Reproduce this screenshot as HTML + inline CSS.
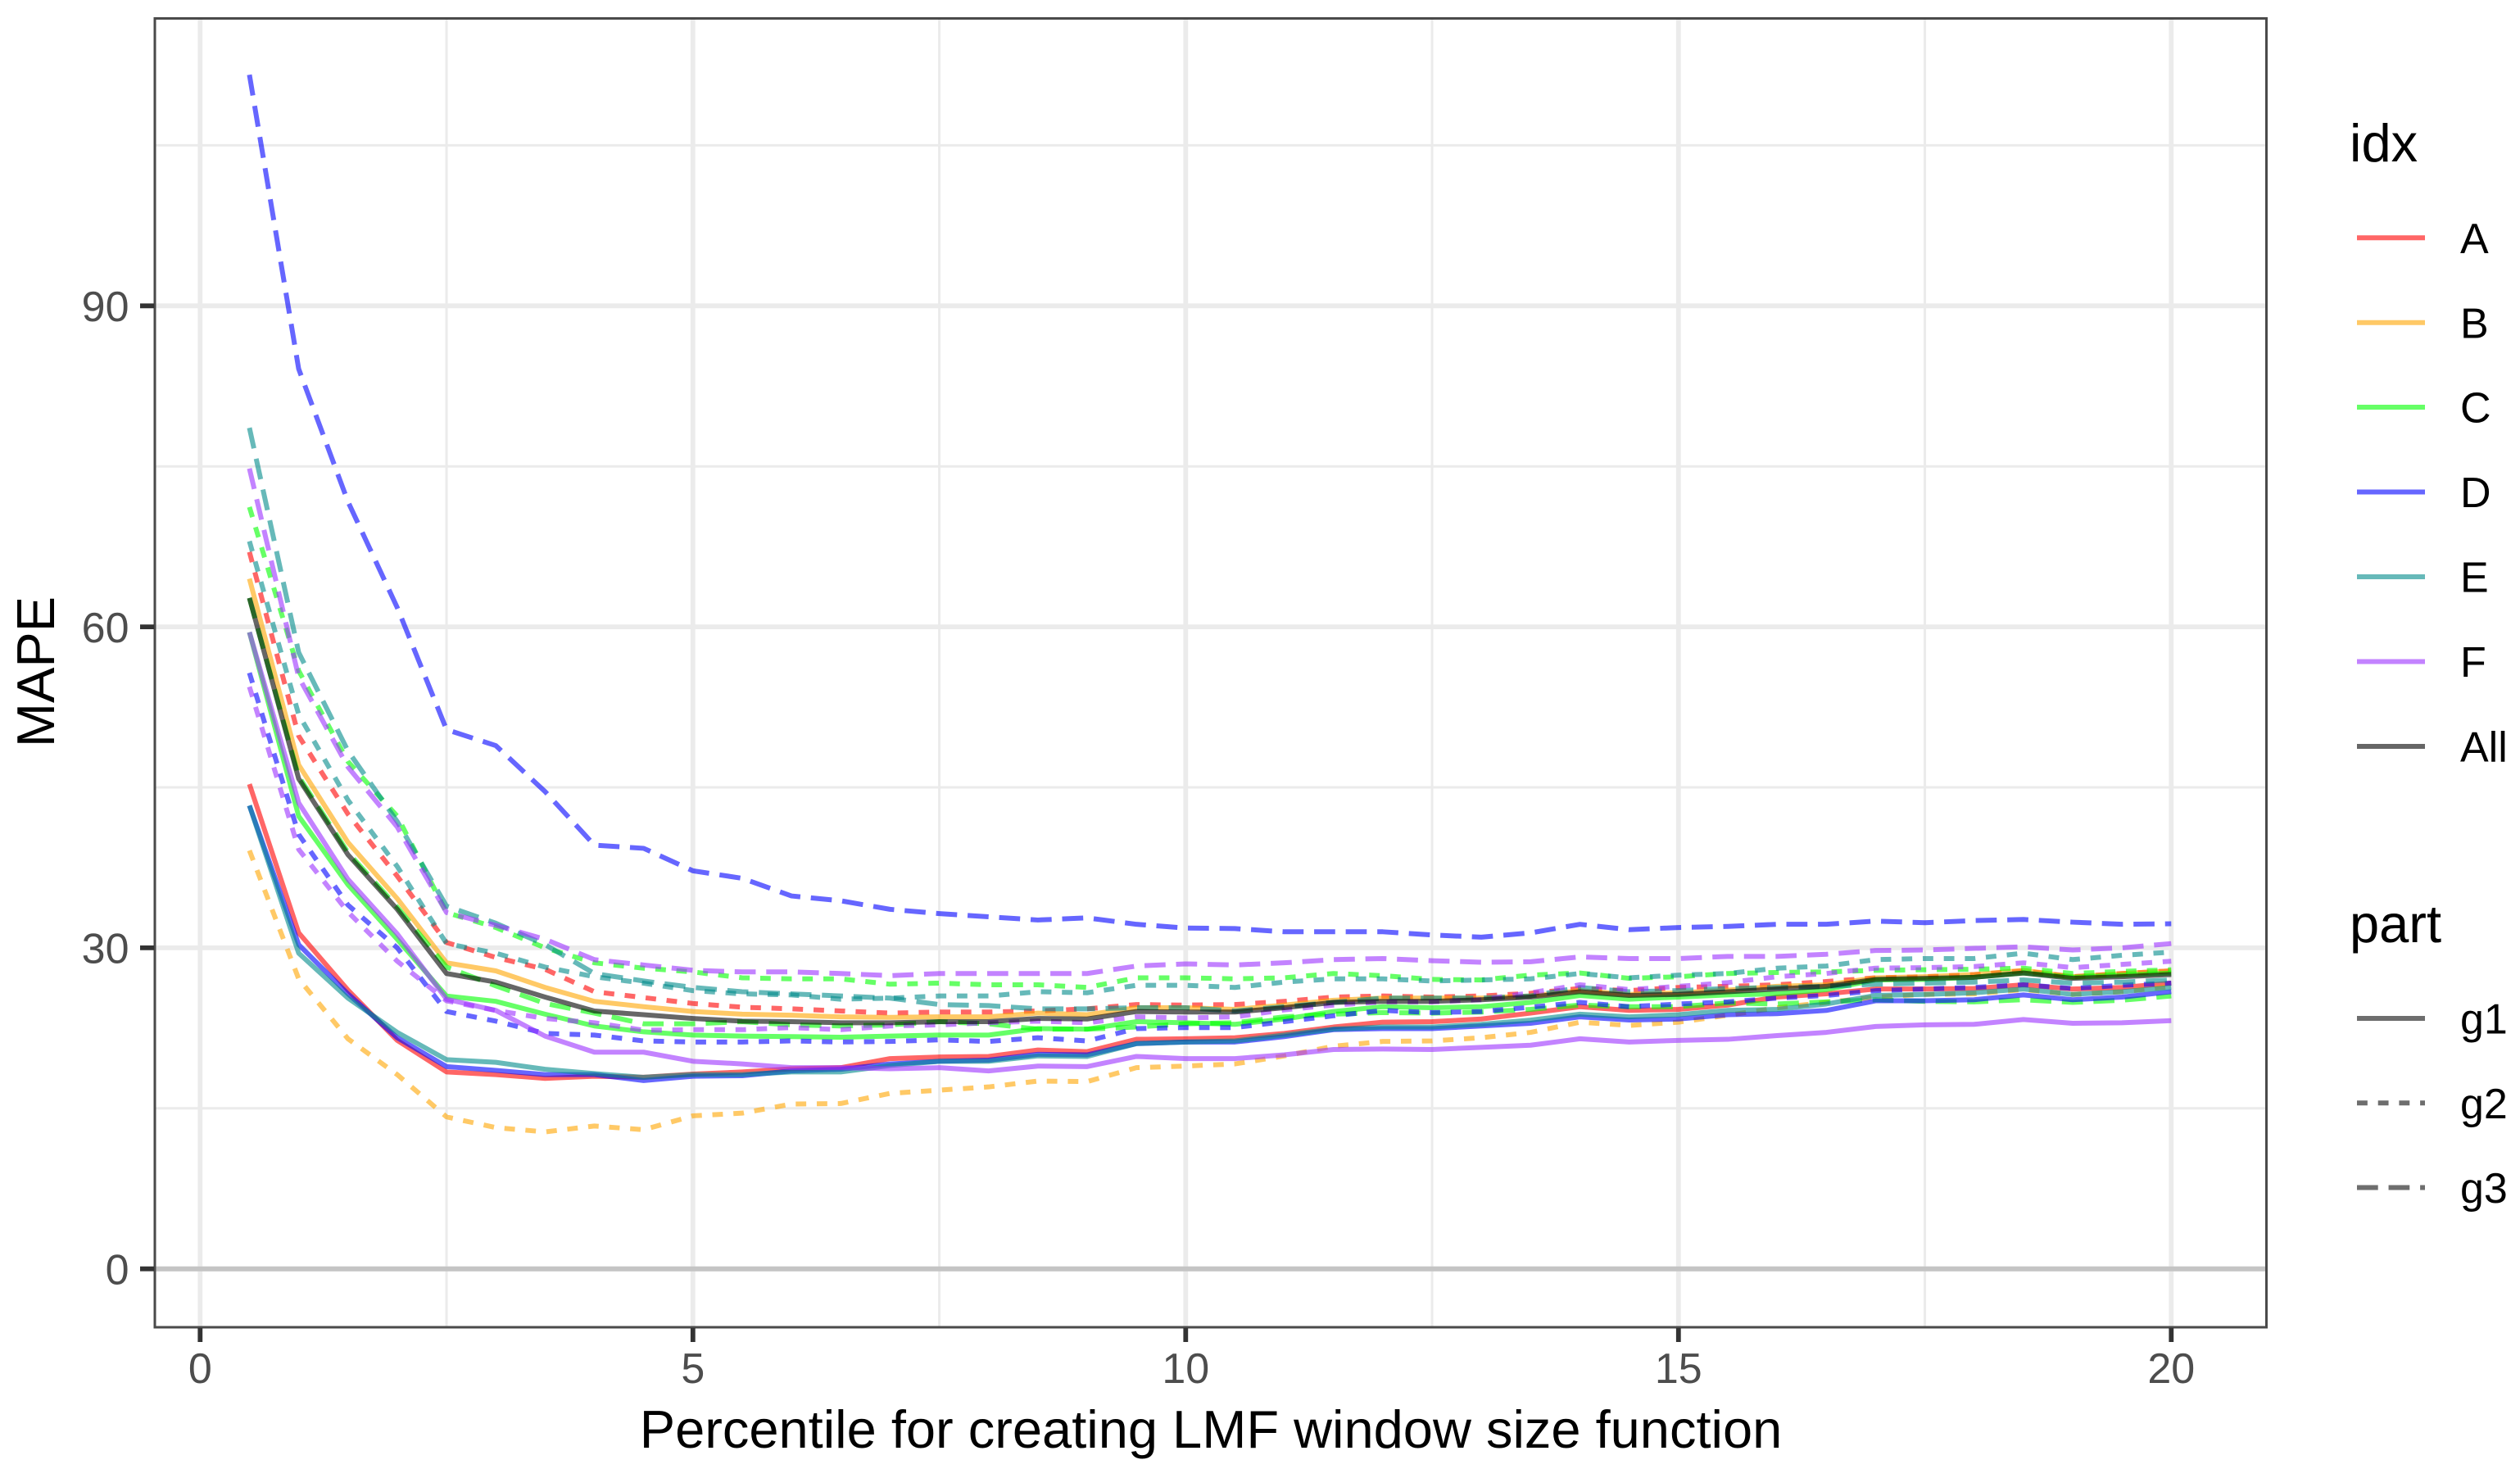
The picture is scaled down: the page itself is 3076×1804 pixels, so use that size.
<!DOCTYPE html>
<html lang="en">
<head>
<meta charset="utf-8">
<title>MAPE by percentile</title>
<style>
html,body{margin:0;padding:0;background:#fff;}
svg{display:block;}
text{font-family:"Liberation Sans",Arial,sans-serif;}
</style>
</head>
<body>
<svg id="chart" xmlns="http://www.w3.org/2000/svg" width="3076" height="1804" viewBox="0 0 3076 1804">
  <rect x="0" y="0" width="3076" height="1804" fill="#ffffff"/>
  <g id="grid"></g>
  <g id="series"></g>
  <rect x="189" y="22.5" width="2577.5" height="1597.5" fill="none" stroke="#4a4a4a" stroke-width="3"/>
  <g id="axes"></g>

  <text x="1478" y="1767" font-size="65" text-anchor="middle" fill="#000">Percentile for creating LMF window size function</text>
  <text transform="translate(66,820) rotate(-90)" font-size="65" text-anchor="middle" fill="#000">MAPE</text>

  <g>
    <text x="2868" y="197" font-size="65" fill="#000">idx</text>
    <g><line x1="2877" x2="2960" y1="290.3" y2="290.3" stroke="#ff0000" stroke-opacity="0.6" stroke-width="6"/><text x="3003" y="309" font-size="52" fill="#000">A</text></g>
    <g><line x1="2877" x2="2960" y1="393.7" y2="393.7" stroke="#ffa500" stroke-opacity="0.6" stroke-width="6"/><text x="3003" y="412.4" font-size="52" fill="#000">B</text></g>
    <g><line x1="2877" x2="2960" y1="497" y2="497" stroke="#00ff00" stroke-opacity="0.6" stroke-width="6"/><text x="3003" y="515.7" font-size="52" fill="#000">C</text></g>
    <g><line x1="2877" x2="2960" y1="600.5" y2="600.5" stroke="#0000ff" stroke-opacity="0.6" stroke-width="6"/><text x="3003" y="619.2" font-size="52" fill="#000">D</text></g>
    <g><line x1="2877" x2="2960" y1="704" y2="704" stroke="#008b8b" stroke-opacity="0.6" stroke-width="6"/><text x="3003" y="722.7" font-size="52" fill="#000">E</text></g>
    <g><line x1="2877" x2="2960" y1="807.5" y2="807.5" stroke="#9b30ff" stroke-opacity="0.6" stroke-width="6"/><text x="3003" y="826.2" font-size="52" fill="#000">F</text></g>
    <g><line x1="2877" x2="2960" y1="911" y2="911" stroke="#000000" stroke-opacity="0.6" stroke-width="6"/><text x="3003" y="929.7" font-size="52" fill="#000">All</text></g>
  </g>

  <g>
    <text x="2868" y="1150" font-size="65" fill="#000">part</text>
    <g><line x1="2877" x2="2960" y1="1243" y2="1243" stroke="#000000" stroke-opacity="0.57" stroke-width="6"/><text x="3003" y="1261.7" font-size="52" fill="#000">g1</text></g>
    <g><line x1="2877" x2="2960" y1="1346.3" y2="1346.3" stroke="#000000" stroke-opacity="0.57" stroke-width="6" stroke-dasharray="12.85 12.85"/><text x="3003" y="1365" font-size="52" fill="#000">g2</text></g>
    <g><line x1="2877" x2="2960" y1="1449.5" y2="1449.5" stroke="#000000" stroke-opacity="0.57" stroke-width="6" stroke-dasharray="25.7 12.85"/><text x="3003" y="1468.2" font-size="52" fill="#000">g3</text></g>
  </g>
</svg>

<script>
// ---- chart data ----
const percentiles = [0.5,1,1.5,2,2.5,3,3.5,4,4.5,5,5.5,6,6.5,7,7.5,8,8.5,9,9.5,10,10.5,11,11.5,12,12.5,13,13.5,14,14.5,15,15.5,16,16.5,17,17.5,18,18.5,19,19.5,20];
const xMajorTicks = [0,5,10,15,20];
const xMinorTicks = [2.5,7.5,12.5,17.5];
const yMajorTicks = [0,30,60,90];
const yMinorTicks = [15,45,75,105];
const xTickLabels = ['0','5','10','15','20'];
const yTickLabels = ['0','30','60','90'];
const zeroLine = 0;

const aG1 = [45.3,31.4,26.05,21.35,18.4,18.15,17.8,18,17.9,18.2,18.4,18.7,18.8,19.65,19.8,19.85,20.45,20.3,21.45,21.5,21.6,22,22.6,23.05,23.1,23.35,23.9,24.5,24.15,24.25,24.65,25.4,25.7,26.15,26.15,26.2,26.55,26.15,26.3,26.7];
const aG2 = [67,49.8,42.5,36.7,30.5,29.1,28,25.9,25.35,24.8,24.45,24.3,24.1,23.9,24,24,24.1,24.3,24.7,24.65,24.7,25,25.4,25.5,25.4,25.5,25.75,26.2,26,26.3,26.4,26.55,26.85,27.2,27.3,27.5,27.85,27.3,27.6,27.85];
const bG1 = [64.5,47.1,39.85,34.6,28.6,27.85,26.3,25,24.5,24.05,23.8,23.7,23.55,23.5,23.55,23.55,23.9,23.75,24.4,24.4,24.25,24.65,25.1,25.3,25.3,25.3,25.5,26,25.65,25.8,26.05,26.4,26.55,27.2,27.3,27.5,27.9,27.3,27.6,27.85];
const bG2 = [39.1,27.1,21.5,18.15,14.2,13.2,12.8,13.35,13,14.3,14.55,15.4,15.45,16.4,16.7,17,17.55,17.5,18.8,18.95,19.15,19.9,20.8,21.25,21.3,21.6,22.1,23.05,22.75,23.05,23.7,24.4,24.9,25.4,25.65,25.7,26.1,25.65,25.9,26.4];
const cG1 = [59.5,42.3,35.9,30.8,25.5,25,23.8,22.7,22.15,21.85,21.75,21.7,21.65,21.75,21.85,21.85,22.45,22.4,23.1,23,22.85,23.35,24.05,24.5,24.4,24.5,24.9,25.55,25.2,25.4,25.6,25.7,26.1,27,27.05,27.25,27.65,27.25,27.45,27.65];
const cG2 = [71.2,55.9,47.4,42.3,33.3,31.9,30,28.6,28.1,27.75,27.2,27.1,27.1,26.6,26.7,26.55,26.55,26.3,27.2,27.2,27.1,27.2,27.6,27.4,27.05,27,27.45,27.65,27.15,27.3,27.6,27.7,27.75,27.9,27.95,28,28.1,27.6,27.8,27.95];
const cG3 = [62.7,46,38.9,33.8,28.2,26.45,24.8,23.9,22.9,22.9,23.1,22.8,22.7,22.8,23.1,22.9,22.4,22.4,22.6,22.9,23,23.55,23.8,23.95,23.9,24,24.25,24.65,24.5,24.5,24.85,24.75,24.95,25.15,25,24.95,25.15,24.9,25.1,25.5];
const dG1 = [43.3,30.3,25.7,21.6,18.9,18.55,18.15,18.15,17.6,18,18.05,18.5,18.65,19.15,19.4,19.5,20.05,20,21.05,21.2,21.2,21.7,22.35,22.45,22.45,22.7,22.95,23.55,23.25,23.35,23.75,23.85,24.15,25.05,25.05,25.15,25.6,25.15,25.4,25.9];
const dG2 = [55.7,40.6,34,30,24.05,23.15,22,21.85,21.3,21.2,21.2,21.3,21.2,21.25,21.4,21.25,21.6,21.3,22.45,22.55,22.55,23.1,23.65,24.15,23.95,24.05,24.45,24.9,24.5,24.75,24.95,25.3,25.55,26,26.15,26.3,26.55,26.2,26.5,26.7];
const dG3 = [111.6,84.1,71.7,61.8,50.4,48.9,44.6,39.6,39.3,37.2,36.5,34.85,34.4,33.6,33.2,32.9,32.6,32.8,32.2,31.85,31.8,31.5,31.5,31.5,31.2,31,31.4,32.2,31.7,31.9,32,32.2,32.2,32.5,32.35,32.55,32.65,32.4,32.2,32.25];
const eG1 = [43.3,29.5,25.3,22.1,19.55,19.3,18.65,18.25,17.9,18.15,18.15,18.4,18.4,19,19.4,19.4,19.9,19.85,21.05,21.2,21.3,21.85,22.4,22.6,22.6,22.85,23.25,23.8,23.55,23.75,24.15,24.25,24.75,25.55,25.65,25.8,26.15,25.65,25.9,26.3];
const eG2 = [68,51.8,43.8,37.6,30.4,29.5,28.2,27.3,26.7,26,25.7,25.6,25.2,25.3,25.5,25.5,25.9,25.8,26.5,26.5,26.3,26.8,27.1,27.1,26.9,27,27.1,27.6,27.2,27.45,27.6,28.1,28.3,28.9,29,29,29.5,28.9,29.3,29.6];
const eG3 = [78.6,57.6,48.4,41.8,33.9,32.3,30.3,27.6,26.9,26.3,25.9,25.7,25.5,25.3,24.7,24.6,24.3,24.3,24.4,24.4,24.1,24.5,24.9,25.3,25.3,25.3,25.5,26.3,25.9,26,26.2,26.3,26.4,26.6,26.7,26.8,27,26.7,26.8,27];
const fG1 = [59.5,43.55,36.4,31.3,25.2,24.15,21.75,20.25,20.25,19.4,19.15,18.8,18.8,18.7,18.8,18.5,18.95,18.9,19.85,19.65,19.65,20,20.5,20.55,20.5,20.7,20.9,21.5,21.2,21.35,21.45,21.8,22.1,22.65,22.8,22.85,23.3,22.95,23,23.2];
const fG2 = [54.4,39.2,33.35,28.75,25.05,24.15,23.4,23,22.3,22.35,22.35,22.55,22.35,22.7,22.8,23,23.15,23,23.55,23.45,23.55,24.2,24.65,24.95,24.95,25.15,25.8,26.55,26.1,26.4,26.75,27.3,27.6,28.1,28.15,28.25,28.6,28.15,28.45,28.75];
const fG3 = [74.8,55.3,46.9,41.3,33.3,32.1,30.8,28.9,28.4,27.9,27.75,27.75,27.6,27.4,27.6,27.6,27.6,27.6,28.3,28.5,28.4,28.6,28.9,29,28.8,28.65,28.7,29.15,29,29,29.2,29.2,29.4,29.75,29.8,29.95,30.1,29.8,30,30.4];
const allG1 = [62.7,45.8,38.7,33.6,27.6,26.8,25.4,24.1,23.75,23.4,23.15,23.1,23,23,23.1,23.1,23.4,23.35,24.05,24,24,24.4,24.9,25,25,25.15,25.4,25.9,25.55,25.65,25.9,26.15,26.4,27.05,27.15,27.25,27.65,27.15,27.3,27.5];

const seriesNames = ['a-g1','a-g2','b-g1','b-g2','c-g1','c-g2','c-g3','d-g1','d-g2','d-g3','e-g1','e-g2','e-g3','f-g1','f-g2','f-g3','all-g1'];
const seriesValues = [aG1,aG2,bG1,bG2,cG1,cG2,cG3,dG1,dG2,dG3,eG1,eG2,eG3,fG1,fG2,fG3,allG1];

// ---- axis functions ----
const X0 = 244.3, XUNIT = 120.3, Y0 = 1548.7, YUNIT = 13.06;
const PANEL = {left: 189, right: 2766.5, top: 22.5, bottom: 1620};
function xScale(v) { return X0 + v * XUNIT; }
function yScale(v) { return Y0 - v * YUNIT; }

const NS = 'http://www.w3.org/2000/svg';
const colorOf = {a:'#ff0000', b:'#ffa500', c:'#00ff00', d:'#0000ff', e:'#008b8b', f:'#9b30ff', all:'#000000'};
const dashOf = {g1:null, g2:'12.85 12.85', g3:'25.7 12.85'};

function make(tag, parent) {
  const el = document.createElementNS(NS, tag);
  parent.appendChild(el);
  return el;
}
function setLine(el, x1, y1, x2, y2, stroke, width) {
  el.setAttribute('x1', x1);
  el.setAttribute('y1', y1);
  el.setAttribute('x2', x2);
  el.setAttribute('y2', y2);
  el.setAttribute('stroke', stroke);
  el.setAttribute('stroke-width', width);
}

const grid = document.getElementById('grid');
const seriesLayer = document.getElementById('series');
const axes = document.getElementById('axes');

// minor grid
yMinorTicks.forEach(function (t) {
  const el = make('line', grid);
  
  
  setLine(el, PANEL.left, yScale(t), PANEL.right, yScale(t), '#ebebeb', 3);
});
xMinorTicks.forEach(function (t) {
  const el = make('line', grid);
  
  
  setLine(el, xScale(t), PANEL.top, xScale(t), PANEL.bottom, '#ebebeb', 3);
});
// major grid
yMajorTicks.forEach(function (t) {
  const el = make('line', grid);
  
  
  setLine(el, PANEL.left, yScale(t), PANEL.right, yScale(t), '#ebebeb', 5.8);
});
xMajorTicks.forEach(function (t) {
  const el = make('line', grid);
  
  
  setLine(el, xScale(t), PANEL.top, xScale(t), PANEL.bottom, '#ebebeb', 5.8);
});
// zero reference line
const zeroEl = make('line', grid);


setLine(zeroEl, PANEL.left, yScale(zeroLine), PANEL.right, yScale(zeroLine), '#c4c4c4', 6);

// series
seriesNames.forEach(function (name, i) {
  const parts = name.split('-');
  const vals = seriesValues[i];
  const pts = vals.map(function (v, j) {
    return xScale(percentiles[j]).toFixed(2) + ',' + yScale(v).toFixed(2);
  }).join(' ');
  const el = make('polyline', seriesLayer);
  
  
  el.setAttribute('points', pts);
  el.setAttribute('fill', 'none');
  el.setAttribute('stroke', colorOf[parts[0]]);
  el.setAttribute('stroke-opacity', '0.6');
  el.setAttribute('stroke-width', '6');
  el.setAttribute('stroke-linejoin', 'round');
  if (dashOf[parts[1]]) el.setAttribute('stroke-dasharray', dashOf[parts[1]]);
});

// ticks and tick labels
xMajorTicks.forEach(function (t, i) {
  const tick = make('line', axes);
  
  
  setLine(tick, xScale(t), PANEL.bottom + 1, xScale(t), 1638, '#333333', 5.8);
  const lab = make('text', axes);
  
  
  lab.setAttribute('x', xScale(t));
  lab.setAttribute('y', 1688);
  lab.setAttribute('font-size', '52');
  lab.setAttribute('fill', '#4d4d4d');
  lab.setAttribute('text-anchor', 'middle');
  lab.textContent = xTickLabels[i];
});
yMajorTicks.forEach(function (t, i) {
  const tick = make('line', axes);
  
  
  setLine(tick, 171, yScale(t), PANEL.left - 1, yScale(t), '#333333', 5.8);
  const lab = make('text', axes);
  
  
  lab.setAttribute('x', 157.5);
  lab.setAttribute('y', yScale(t) + 18.8);
  lab.setAttribute('font-size', '52');
  lab.setAttribute('fill', '#4d4d4d');
  lab.setAttribute('text-anchor', 'end');
  lab.textContent = yTickLabels[i];
});
</script>
</body>
</html>
